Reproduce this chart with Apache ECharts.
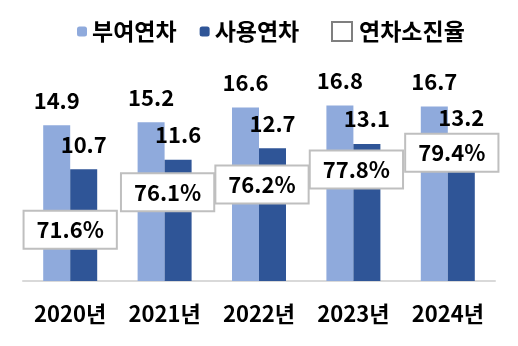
<!DOCTYPE html>
<html><head><meta charset="utf-8">
<script src="https://cdn.jsdelivr.net/npm/echarts@6/dist/echarts.min.js"></script>
<style>html,body{margin:0;padding:0;background:#fff}#c{width:518px;height:346px}</style>
</head><body><div id="c"></div>
<script>
const categories = ['2020년','2021년','2022년','2023년','2024년'];
const granted = [14.9, 15.2, 16.6, 16.8, 16.7];
const used = [10.7, 11.6, 12.7, 13.1, 13.2];
const usageRate = [71.6, 76.1, 76.2, 77.8, 79.4];
const seriesNames = ['부여연차','사용연차','연차소진율'];

const FONT = '"Noto Sans CJK KR", "Noto Sans", sans-serif';
// small manual nudges of the rate boxes, as in the original layout
const boxOffsets = [[0, 0], [3, 7], [3, 0], [3, 1], [4, 0]];
const rateData = usageRate.map((v, i) => ({value: v, label: {offset: boxOffsets[i]}}));

const chart = echarts.init(document.getElementById('c'));
chart.setOption({
  animation: false,
  textStyle: {fontFamily: FONT},
  legend: [{
    left: 77, top: 20, padding: 0, itemWidth: 10, itemHeight: 10, itemGap: 23,
    data: [seriesNames[0], seriesNames[1]],
    textStyle: {fontFamily: FONT, fontSize: 23, fontWeight: 'bold', color: '#000'},
    itemStyle: {borderWidth: 0}
  },{
    left: 331, top: 20, padding: 0, itemWidth: 20, itemHeight: 19,
    data: [{name: seriesNames[2], icon: 'rect', itemStyle: {color: '#fff', borderColor: '#7f7f7f', borderWidth: 2, opacity: 1}}],
    textStyle: {fontFamily: FONT, fontSize: 23, fontWeight: 'bold', color: '#000', padding: [0, 0, 0, 2]}
  }],
  grid: {left: 23, right: 23, top: 72, bottom: 65},
  xAxis: {
    type: 'category', data: categories,
    axisLine: {lineStyle: {color: '#d9d9d9', width: 2}},
    axisTick: {show: false},
    axisLabel: {fontFamily: FONT, fontSize: 22, fontWeight: 'bold', color: '#000', margin: 22}
  },
  yAxis: [
    {type: 'value', min: 0, max: 20, show: false, splitLine: {show: false}},
    {type: 'value', min: 66.4, max: 87.6, show: false, splitLine: {show: false}}
  ],
  series: [
    {name: seriesNames[0], type: 'bar', data: granted, barWidth: 27, barGap: '0%',
     itemStyle: {color: '#8faadc'},
     label: {show: true, position: 'top', distance: 14, fontFamily: FONT, fontSize: 22, fontWeight: 'bold', color: '#000'}},
    {name: seriesNames[1], type: 'bar', data: used, barWidth: 27,
     itemStyle: {color: '#2f5597'},
     label: {show: true, position: 'top', distance: 14, fontFamily: FONT, fontSize: 22, fontWeight: 'bold', color: '#000'}},
    {name: seriesNames[2], type: 'line', yAxisIndex: 1, data: rateData, z: 10,
     symbol: 'circle', symbolSize: 1,
     itemStyle: {color: 'rgba(0,0,0,0)', borderColor: 'rgba(0,0,0,0)', borderWidth: 0},
     lineStyle: {opacity: 0},
     label: {show: true, position: 'inside', formatter: p => p.value.toFixed(1) + '%',
       fontFamily: FONT, fontSize: 22, fontWeight: 'bold', color: '#000',
       backgroundColor: '#fff', borderColor: '#bfbfbf', borderWidth: 2, padding: [7, 12, 7, 12]}}
  ]
});
</script></body></html>
